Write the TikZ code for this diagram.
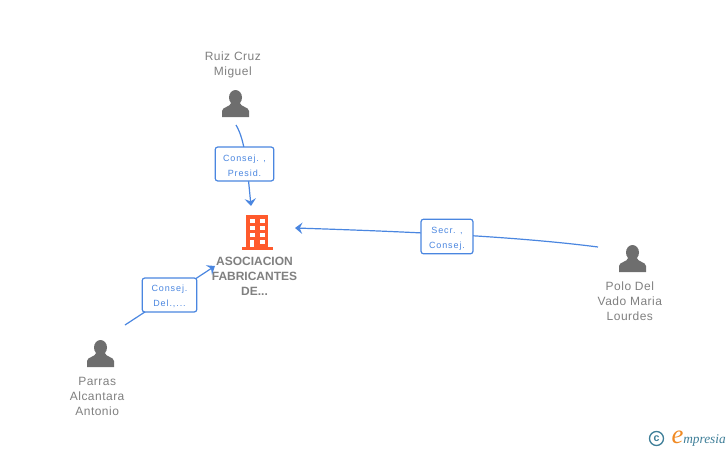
\documentclass[tikz,border=0pt]{standalone}
\usepackage{fontspec}
\setmainfont{Liberation Sans}
\newfontfamily\namefont[LetterSpace=4]{Liberation Sans}
\newfontfamily\rolefont[LetterSpace=10]{Liberation Sans}
\newfontfamily\logofont{Liberation Serif}
\usetikzlibrary{arrows.meta, positioning}
\definecolor{linkblue}{HTML}{4A86E0}
\definecolor{icongray}{HTML}{6E6E6E}
\definecolor{textgray}{HTML}{808080}
\definecolor{brickred}{HTML}{FF5A2C}
\definecolor{logoteal}{HTML}{3E7E98}
\definecolor{logoorange}{HTML}{F08A24}

\begin{document}
\begin{tikzpicture}[
    x=0.75pt, y=-0.75pt,
    person/.style={inner sep=0pt, minimum width=20.25pt, minimum height=20.25pt, path picture={
      \begin{scope}[shift={(path picture bounding box.center)}]
        \fill[icongray] (0,-6) ellipse (6.5 and 7.5);
        \fill[icongray] (-13.5,13.5) -- (-13.5,7.5) .. controls (-13,3) and (-5.5,4) .. (-4,-1) -- (4,-1)
          .. controls (5.5,4) and (13,3) .. (13.5,7.5) -- (13.5,13.5) -- cycle;
      \end{scope}}},
    personlabel/.style={font=\namefont\fontsize{9pt}{11.25pt}\selectfont, text=textgray, align=center, inner sep=0pt},
    role/.style={draw=linkblue, line width=0.9pt, fill=white, rounded corners=2pt, align=center, inner sep=0pt,
      text=linkblue, font=\rolefont\fontsize{6.75pt}{11.25pt}\selectfont},
    link/.style={draw=linkblue, line width=0.9pt},
    arrow/.style={link, -{Stealth[length=5.5pt, width=8.5pt, inset=2pt]}}
]
  \useasboundingbox (0,0) rectangle (728,450);

  % Company
  \fill[brickred] (246,215) rectangle (268,248);
  \fill[brickred] (242,247) rectangle (273,249.5);
  \foreach \yy in {219,226,233} {
    \fill[white] (249.5,\yy) rectangle (254.5,\yy+4);
    \fill[white] (259.5,\yy) rectangle (264.5,\yy+4);
  }
  \fill[white] (259.5,239.5) rectangle (264.5,243.5);
  \fill[white] (250,239.5) rectangle (254,247);
  \node[font=\bfseries\fontsize{9pt}{11.25pt}\selectfont, text=textgray, align=center, inner sep=0pt]
    (asociacion) at (254.5,276) {ASOCIACION\\FABRICANTES\\DE...};

  % People
  \node[person] (ruiz) at (235.5,103.5) {};
  \node[person] (polo) at (632.5,258.5) {};
  \node[person] (parras) at (100.5,353.5) {};

  \node[personlabel, above=8.5pt of ruiz, xshift=-2pt] (ruizlabel) {Ruiz Cruz\\Miguel};
  \node[personlabel, below=7pt of polo, xshift=-2pt] (pololabel) {Polo Del\\Vado Maria\\Lourdes};
  \node[personlabel, below=7pt of parras, xshift=-2.5pt] (parraslabel) {Parras\\Alcantara\\Antonio};

  % Free ends of the links
  \coordinate (ruizout) at (236,125);
  \coordinate (ruizin) at (251,206);
  \coordinate (poloout) at (598,247);
  \coordinate (poloin) at (295,228);
  \coordinate (parrasout) at (125,325);
  \coordinate (parrasin) at (215,266);

  % Links
  \draw[arrow] (ruizout) .. controls (245,140) and (247,165) .. (ruizin);
  \draw[arrow] (poloout) .. controls (520,237) and (420,232) .. (poloin);
  \draw[arrow] (parrasout) -- (parrasin);

  % Roles
  \node[role, minimum width=44pt, minimum height=25.5pt] (roleruiz) at (244.5,164) {\rule{0pt}{7.5pt}Consej. ,\\Presid.};
  \node[role, minimum width=39pt, minimum height=26pt] (rolepolo) at (447,236.5) {\rule{0pt}{7.5pt}Secr. ,\\Consej.};
  \node[role, minimum width=41pt, minimum height=25.5pt] (roleparras) at (169.5,295) {\rule{0pt}{7.5pt}Consej.\\Del.,...};

  % Logo
  \node[circle, draw=logoteal, line width=1pt, inner sep=0pt, minimum size=10.5pt, text=logoteal,
    font=\bfseries\fontsize{8pt}{8pt}\selectfont] (copyrightmark) at (656.5,438.5) {c};
  \node[text=logoorange, font=\logofont\itshape\fontsize{20pt}{20pt}\selectfont, inner sep=0pt, anchor=base] (logoe) at (677.5,443.5) {e};
  \node[text=logoteal, font=\logofont\itshape\fontsize{10pt}{10pt}\selectfont, inner sep=0pt, anchor=base west] (logoname) at (683,443) {mpresia};
\end{tikzpicture}
\end{document}
